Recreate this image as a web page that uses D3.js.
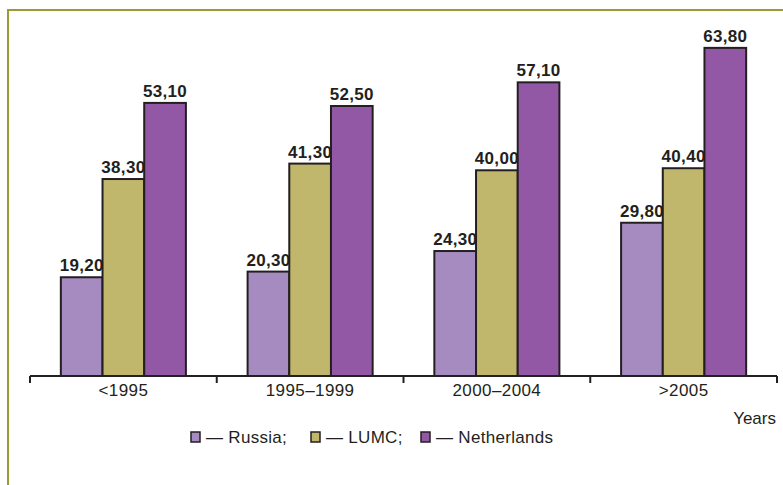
<!DOCTYPE html>
<html>
<head>
<meta charset="utf-8">
<script src="https://cdn.jsdelivr.net/npm/d3@7/dist/d3.min.js"></script>
<style>
  html, body { margin: 0; padding: 0; background: #fff; }
  svg { display: block; font-family: "Liberation Sans", Arial, sans-serif; }
</style>
</head>
<body>
<svg id="chart" width="783" height="485"></svg>
<script>
const categories = ['<1995', '1995–1999', '2000–2004', '>2005'];
const seriesNames = ['Russia', 'LUMC', 'Netherlands'];
const russia = [19.2, 20.3, 24.3, 29.8];
const lumc = [38.3, 41.3, 40.0, 40.4];
const netherlands = [53.1, 52.5, 57.1, 63.8];
const legendLabels = ['— Russia;', '— LUMC;', '— Netherlands'];
const colors = ['#a58bc0', '#c0b76c', '#9358a5'];

const values = [russia, lumc, netherlands];
const width = 783;
const height = 485;
const baseline = 376;
const svg = d3.select('#chart');

// olive frame (top + left edges visible)
svg.append('path').attr('d', `M8,${height} V10 H${width}`).attr('fill', 'none').attr('stroke', '#9b9b35').attr('stroke-width', 2);

const x0 = d3.scaleBand().domain(categories).range([30, 777]).padding(0);
const x1 = d3.scaleBand().domain(seriesNames).range([0, x0.bandwidth()]).paddingInner(0).paddingOuter(0.74);
const y = d3.scaleLinear().domain([0, 70]).range([baseline, 16]);

const fmt = (v) => v.toFixed(2).replace('.', ',');

const groups = svg.append('g').selectAll('g').data(categories).join('g').attr('transform', (c) => `translate(${x0(c)},0)`);

groups
  .selectAll('rect')
  .data((c, ci) => seriesNames.map((s, si) => ({ s, si, v: values[si][ci] })))
  .join('rect')
  .attr('x', (d) => x1(d.s))
  .attr('y', (d) => y(d.v))
  .attr('width', x1.bandwidth())
  .attr('height', (d) => baseline - y(d.v))
  .attr('fill', (d) => colors[d.si])
  .attr('stroke', '#231f20')
  .attr('stroke-width', 2);

groups
  .selectAll('text')
  .data((c, ci) => seriesNames.map((s, si) => ({ s, si, v: values[si][ci] })))
  .join('text')
  .attr('x', (d) => x1(d.s) + x1.bandwidth() / 2)
  .attr('y', (d) => y(d.v) - 6)
  .attr('text-anchor', 'middle')
  .attr('font-size', 17)
  .attr('font-weight', 'bold')
  .attr('letter-spacing', 0.3)
  .attr('fill', '#231f20')
  .text((d) => fmt(d.v));

// axis line with ticks at band boundaries
const axis = svg.append('g');
axis.append('line').attr('x1', 30).attr('x2', 777).attr('y1', baseline).attr('y2', baseline).attr('stroke', '#231f20').attr('stroke-width', 2);
const tickXs = categories.map((c) => x0(c)).concat([x0.range()[1]]);
axis.selectAll('line.tick').data(tickXs).join('line').attr('class', 'tick')
  .attr('x1', (d) => d).attr('x2', (d) => d).attr('y1', baseline).attr('y2', baseline + 7)
  .attr('stroke', '#231f20').attr('stroke-width', 2);
axis.selectAll('text').data(categories).join('text')
  .attr('x', (c) => x0(c) + x0.bandwidth() / 2)
  .attr('y', 396)
  .attr('text-anchor', 'middle')
  .attr('font-size', 17)
  .attr('letter-spacing', 0.4)
  .attr('fill', '#231f20')
  .text((c) => c);

svg.append('text').attr('x', 776).attr('y', 424).attr('text-anchor', 'end').attr('font-size', 17).attr('fill', '#231f20').text('Years');

// legend
const legendX = [191, 311, 421];
const legend = svg.append('g').selectAll('g').data(seriesNames).join('g').attr('transform', (d, i) => `translate(${legendX[i]},432)`);
legend.append('rect').attr('width', 9).attr('height', 10).attr('fill', (d, i) => colors[i]).attr('stroke', '#231f20').attr('stroke-width', 1.5);
legend.append('text').attr('x', 15).attr('y', 11).attr('font-size', 17).attr('letter-spacing', 0.3).attr('fill', '#231f20').text((d, i) => legendLabels[i]);
</script>
</body>
</html>
